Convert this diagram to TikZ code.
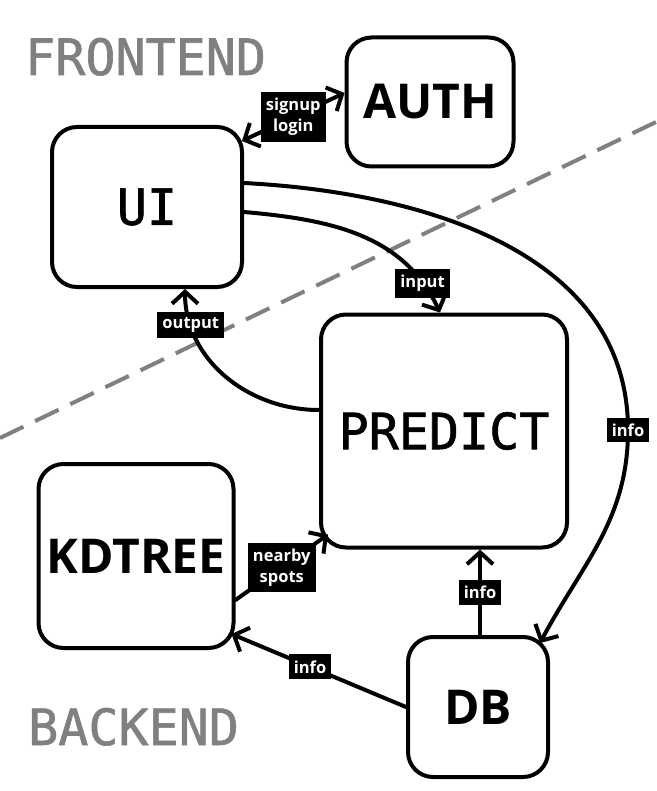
\documentclass[tikz,border=0pt]{standalone}
\usepackage{fontspec}
\setmainfont{Open Sans}
\newfontfamily\monofont[FakeBold=1.2]{DejaVu Sans Mono}
\usetikzlibrary{arrows.meta}

\definecolor{zonegray}{HTML}{808080}

\tikzset{
  box/.style={draw, line width=4pt, rounded corners=25pt, inner sep=0pt},
  lbl/.style={fill=black, text=white, align=center, inner xsep=5pt, inner ysep=6pt,
    font=\bfseries\fontsize{16.5}{21}\selectfont},
  flow/.style={line width=4pt, line cap=round, -{Straight Barb[length=12pt,width=26pt]}},
  zone/.style={text=zonegray, inner sep=0pt, anchor=base west, font=\monofont\fontsize{50}{60}\selectfont},
}

\begin{document}
\begin{tikzpicture}[x=1pt,y=1pt]
    \useasboundingbox (0,0) rectangle (656,-791);

    % Frontend / backend split
    \draw[zonegray, line width=4pt, dash pattern=on 26pt off 13pt] (0,-438) -- (656,-122);
    \node[zone] (front) at (25,-75) {FRONTEND};
    \node[zone] (back) at (28,-745) {BACKEND};

    % Boxes
    \node[box, minimum width=167pt, minimum height=129pt, font=\bfseries\fontsize{48}{56}\selectfont] (auth) at (430,-102) {AUTH};
    \node[box, minimum width=190pt, minimum height=160pt, font=\monofont\fontsize{50}{60}\selectfont] (ui) at (147,-207) {UI};
    \node[box, minimum width=246pt, minimum height=233pt, font=\monofont\fontsize{50}{60}\selectfont] (predict) at (444,-431) {PREDICT};
    \node[box, minimum width=195pt, minimum height=184pt, font=\bfseries\fontsize{48}{56}\selectfont] (kdtree) at (136,-556) {KDTREE};
    \node[box, minimum width=140pt, minimum height=140pt, font=\bfseries\fontsize{48}{56}\selectfont] (db) at (478,-707) {DB};

    % UI <-> AUTH
    \draw[flow, {Straight Barb[length=12pt,width=26pt]}-{Straight Barb[length=12pt,width=26pt]}]
        ([xshift=-2pt,yshift=-16pt]ui.north east) -- node[lbl] {signup\\login} ([yshift=9pt]auth.west);

    % UI -> PREDICT
    \draw[flow] ([yshift=-5pt]ui.east) to[out=-5,in=115] node[lbl, pos=0.86] {input} ([xshift=-4pt]predict.north);

    % PREDICT -> UI
    \draw[flow] ([yshift=21pt]predict.west) to[out=180,in=-90] node[lbl, pos=0.82] {output} ([xshift=38pt]ui.south);

    % UI -> DB
    \draw[flow] ([yshift=24pt]ui.east) to[out=-3,in=90] coordinate[pos=1] (far)
        (628,-430) to[out=-90,in=62] ([xshift=-10pt,yshift=-8pt]db.north east);
    \node[lbl] (farinfo) at (far) {info};

    % KDTREE -> PREDICT
    \draw[flow] ([yshift=-44pt]kdtree.east) -- node[lbl] {nearby\\spots} ([xshift=9pt,yshift=15pt]predict.south west);

    % DB -> KDTREE
    \draw[flow] (db.west) -- node[lbl, pos=0.55] {info} ([xshift=-4pt,yshift=16pt]kdtree.south east);

    % DB -> PREDICT
    \draw[flow] ([xshift=2pt]db.north) -- node[lbl] {info} ([xshift=36pt]predict.south);
\end{tikzpicture}
\end{document}
